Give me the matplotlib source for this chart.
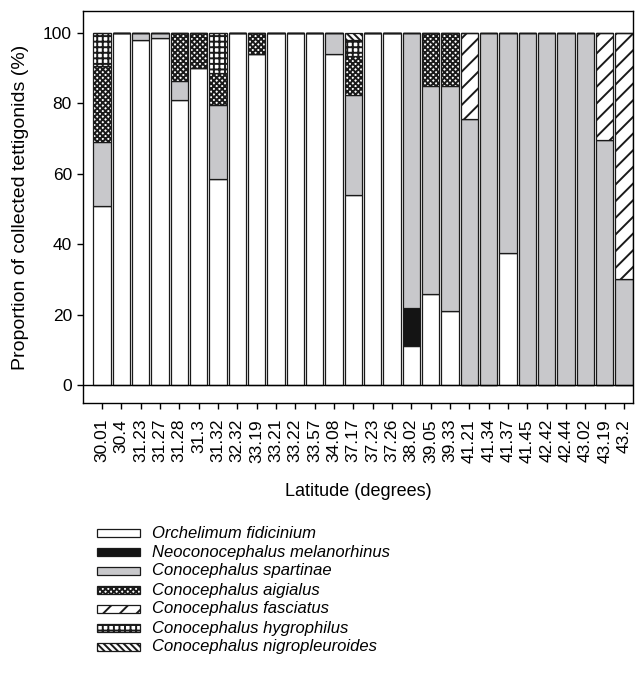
import numpy as np
import matplotlib
matplotlib.use("Agg")
import matplotlib.pyplot as plt
from matplotlib.patches import Rectangle

plt.rcParams['font.family'] = ['Liberation Sans', 'DejaVu Sans']
plt.rcParams['hatch.linewidth'] = 1.4

# Latitude of each collection site (tick labels)
latitudes = ["30.01", "30.4", "31.23", "31.27", "31.28", "31.3", "31.32", "32.32",
             "33.19", "33.21", "33.22", "33.57", "34.08", "37.17", "37.23", "37.26",
             "38.02", "39.05", "39.33", "41.21", "41.34", "41.37", "41.45", "42.42",
             "42.44", "43.02", "43.19", "43.2"]

# Proportions (%) per species, bottom to top of each stack
fidicinium = [51, 100, 98, 98.5, 81, 90, 58.5, 100, 94, 100, 100, 100, 94, 54,
              100, 100, 11, 26, 21, 0, 0, 37.5, 0, 0, 0, 0, 0, 0]
melanorhinus = [0, 0, 0, 0, 0, 0, 0, 0, 0, 0, 0, 0, 0, 0,
                0, 0, 11, 0, 0, 0, 0, 0, 0, 0, 0, 0, 0, 0]
spartinae = [18, 0, 2, 1.5, 5.5, 0, 21, 0, 0, 0, 0, 0, 6, 28.5,
             0, 0, 78, 59, 64, 75.5, 100, 62.5, 100, 100, 100, 100, 69.5, 30]
aigialus = [21.5, 0, 0, 0, 13.5, 10, 9, 0, 6, 0, 0, 0, 0, 11,
            0, 0, 0, 15, 15, 0, 0, 0, 0, 0, 0, 0, 0, 0]
fasciatus = [0, 0, 0, 0, 0, 0, 0, 0, 0, 0, 0, 0, 0, 0,
             0, 0, 0, 0, 0, 24.5, 0, 0, 0, 0, 0, 0, 30.5, 70]
hygrophilus = [9.5, 0, 0, 0, 0, 0, 11.5, 0, 0, 0, 0, 0, 0, 4.5,
               0, 0, 0, 0, 0, 0, 0, 0, 0, 0, 0, 0, 0, 0]
nigropleuroides = [0, 0, 0, 0, 0, 0, 0, 0, 0, 0, 0, 0, 0, 2,
                   0, 0, 0, 0, 0, 0, 0, 0, 0, 0, 0, 0, 0, 0]

species = ["Orchelimum fidicinium", "Neoconocephalus melanorhinus",
           "Conocephalus spartinae", "Conocephalus aigialus",
           "Conocephalus fasciatus", "Conocephalus hygrophilus",
           "Conocephalus nigropleuroides"]
series = [fidicinium, melanorhinus, spartinae, aigialus, fasciatus,
          hygrophilus, nigropleuroides]

# fill colour and hatch for each species
styles = [("white", ""), ("#141414", ""), ("#c8c8cb", ""), ("white", "xxxxxx"),
          ("white", "//"), ("white", "+++"), ("white", "\\\\\\\\\\")]

W, H = 638, 682
fig = plt.figure(figsize=(W / 100, H / 100), dpi=100)
ax = fig.add_axes([83 / W, 1 - 403 / H, (632.7 - 83) / W, (403 - 11) / H])

x = np.arange(len(latitudes))
bottom = np.zeros(len(latitudes))
for vals, (fc, hatch) in zip(series, styles):
    vals = np.array(vals, dtype=float)
    ax.bar(x, vals, width=0.9, bottom=bottom, color=fc, hatch=hatch,
           edgecolor="#1a1a1a", linewidth=0.9)
    bottom += vals

ax.axhline(0, color="black", linewidth=1.0, zorder=3)
ax.set_xlim(-0.98, 27.45)
ax.set_ylim(-5.1, 106.25)
ax.set_xticks(x)
ax.set_xticklabels(latitudes, rotation=90)
ax.set_yticks(np.arange(0, 101, 20))
ax.tick_params(axis="both", direction="out", length=4.5, width=1.0,
               labelsize=12.5, color="black")
ax.tick_params(axis="x", pad=7)
for s in ax.spines.values():
    s.set_linewidth(1.0)
ax.set_ylabel("Proportion of collected tettigonids (%)", fontsize=14, labelpad=10)
ax.set_xlabel("Latitude (degrees)", fontsize=13, labelpad=15)

# legend drawn below the plot
for i, (name, (fc, hatch)) in enumerate(zip(species, styles)):
    yc = 533 + 19 * i
    fig.add_artist(Rectangle((97 / W, 1 - (yc + 4) / H), 43 / W, 8 / H,
                             transform=fig.transFigure, facecolor=fc,
                             hatch=hatch, edgecolor="#1a1a1a", linewidth=0.9))
    fig.text(152 / W, 1 - yc / H, name, fontsize=12, style="italic",
             va="center", ha="left")

fig.savefig("out.png", dpi=100)
